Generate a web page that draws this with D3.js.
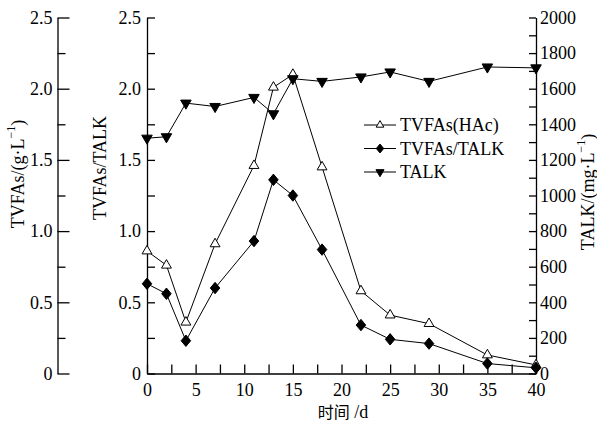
<!DOCTYPE html>
<html>
<head>
<meta charset="utf-8">
<script src="https://cdn.jsdelivr.net/npm/d3@7"></script>
<style>
  body { margin: 0; background: #fff; }
  text { font-family: "Liberation Serif", "Times New Roman", serif; font-size: 18px; fill: #000; }
  .cjk { font-family: "Noto Sans CJK SC", sans-serif; }
  .axis path, .axis line { stroke: #000; stroke-width: 1.3; }
</style>
</head>
<body>
<script>
// days of operation
const days = [0, 2, 4, 7, 11, 13, 15, 18, 22, 25, 29, 35, 40];
// TVFAs (HAc), g/L
const tvfas = [0.86, 0.76, 0.36, 0.91, 1.46, 2.01, 2.10, 1.45, 0.58, 0.41, 0.35, 0.13, 0.06];
// TVFAs/TALK ratio
const ratio = [0.63, 0.56, 0.23, 0.60, 0.93, 1.36, 1.25, 0.87, 0.34, 0.24, 0.21, 0.07, 0.04];
// TALK, mg/L
const talk = [1322, 1330, 1519, 1500, 1551, 1459, 1656, 1641, 1666, 1694, 1641, 1722, 1717];

const xTicks = [0, 5, 10, 15, 20, 25, 30, 35, 40];
const leftTicks = [0, 0.5, 1.0, 1.5, 2.0, 2.5];
const rightTicks = [0, 200, 400, 600, 800, 1000, 1200, 1400, 1600, 1800, 2000];
const seriesNames = ['TVFAs(HAc)', 'TVFAs/TALK', 'TALK'];

const W = 597, H = 422;
const plot = { left: 147, right: 536, top: 17.5, bottom: 373.5 };
const farAxisX = 57.5;

const svg = d3.select('body').append('svg')
    .attr('width', W)
    .attr('height', H);

const xscale = d3.scaleLinear().domain([0, 40]).range([plot.left, plot.right]);
const yscale = d3.scaleLinear().domain([0, 2.5]).range([plot.bottom, plot.top]);
const y2scale = d3.scaleLinear().domain([0, 2000]).range([plot.bottom, plot.top]);

//custom marker shapes
const rhomb = {
    draw(ctx, size) {
        const w = Math.sqrt(size) * 0.55, h = w * 1.2;
        ctx.moveTo(0, -h); ctx.lineTo(w, 0); ctx.lineTo(0, h); ctx.lineTo(-w, 0); ctx.closePath();
    }
};
const triDown = {
    draw(ctx, size) {
        const s = Math.sqrt(size / (Math.sqrt(3) / 4));
        const hh = s * Math.sqrt(3) / 2;
        ctx.moveTo(-s / 2, -hh / 3); ctx.lineTo(s / 2, -hh / 3); ctx.lineTo(0, 2 * hh / 3); ctx.closePath();
    }
};
const triUp = {
    draw(ctx, size) {
        const s = Math.sqrt(size / (Math.sqrt(3) / 4));
        const hh = s * Math.sqrt(3) / 2;
        ctx.moveTo(-s / 2, hh / 3); ctx.lineTo(s / 2, hh / 3); ctx.lineTo(0, -2 * hh / 3); ctx.closePath();
    }
};

/////////////////////////
// axes

function minorOf(scale, step) {
    const [a, b] = scale.domain();
    return d3.range(a + step / 2, b, step);
}

function drawAxis(axis, transform) {
    const g = svg.append('g').attr('class', 'axis').attr('transform', transform).call(axis);
    g.selectAll('text').attr('fill', '#000');
    return g;
}

const leftFmt = (d) => d === 0 ? '0' : d3.format('.1f')(d);

//far left axis (TVFAs g/L)
drawAxis(d3.axisLeft(yscale).tickValues(leftTicks).tickFormat(leftFmt)
    .tickSizeInner(-12).tickSizeOuter(0).tickPadding(5), `translate(${farAxisX},0)`);
drawAxis(d3.axisLeft(yscale).tickValues(minorOf(yscale, 0.5)).tickFormat('')
    .tickSizeInner(-8).tickSizeOuter(0), `translate(${farAxisX},0)`)
    .select('.domain').remove();

//inner left axis (TVFAs/TALK)
drawAxis(d3.axisLeft(yscale).tickValues(leftTicks).tickFormat(leftFmt)
    .tickSizeInner(-8).tickSizeOuter(0).tickPadding(6), `translate(${plot.left},0)`);
drawAxis(d3.axisLeft(yscale).tickValues(minorOf(yscale, 0.5)).tickFormat('')
    .tickSizeInner(-8).tickSizeOuter(0), `translate(${plot.left},0)`)
    .select('.domain').remove();

//right axis (TALK)
drawAxis(d3.axisRight(y2scale).tickValues(rightTicks).tickFormat(d3.format('d'))
    .tickSizeInner(-7).tickSizeOuter(0).tickPadding(4), `translate(${plot.right},0)`);
drawAxis(d3.axisRight(y2scale).tickValues(minorOf(y2scale, 200)).tickFormat('')
    .tickSizeInner(-7).tickSizeOuter(0), `translate(${plot.right},0)`)
    .select('.domain').remove();

//x axis
drawAxis(d3.axisBottom(xscale).tickValues(xTicks)
    .tickSizeInner(-9).tickSizeOuter(0).tickPadding(9.5), `translate(0,${plot.bottom})`);
drawAxis(d3.axisBottom(xscale).tickValues(minorOf(xscale, 5)).tickFormat('')
    .tickSizeInner(-9).tickSizeOuter(0), `translate(0,${plot.bottom})`)
    .select('.domain').remove();

//axis titles
function rotatedTitle(x, y, main, tail) {
    const t = svg.append('text')
        .attr('transform', `translate(${x},${y}) rotate(-90)`)
        .attr('text-anchor', 'middle')
        .attr('dominant-baseline', 'central');
    t.append('tspan').text(main);
    if (tail) {
        t.append('tspan').attr('font-size', '12px').attr('dy', -7).text('\u22121');
        t.append('tspan').attr('dy', 7).text(')');
    }
}
rotatedTitle(18, 174, 'TVFAs/(g\u00b7L', true);
rotatedTitle(100, 168, 'TVFAs/TALK', false);
rotatedTitle(588, 192, 'TALK/(mg\u00b7L', true);

const xtitle = svg.append('text')
    .attr('x', 343).attr('y', 418.3)
    .attr('text-anchor', 'middle');
xtitle.append('tspan').attr('class', 'cjk').attr('font-size', '16px').text('时间');
xtitle.append('tspan').text(' /d');

/////////////////////////
// series

const series = [
    { name: seriesNames[0], values: tvfas, scale: yscale, type: triUp, size: 42, fill: '#fff' },
    { name: seriesNames[1], values: ratio, scale: yscale, type: rhomb, size: 75, fill: '#000' },
    { name: seriesNames[2], values: talk, scale: y2scale, type: triDown, size: 48, fill: '#000' }
];

const chart = svg.append('g').attr('class', 'chart');

series.forEach((s) => {
    const pts = days.map((d, i) => [xscale(d), s.scale(s.values[i])]);
    chart.append('path')
        .attr('d', d3.line()(pts))
        .attr('fill', 'none')
        .attr('stroke', '#000')
        .attr('stroke-width', 1);
    chart.selectAll(null).data(pts).enter().append('path')
        .attr('transform', (p) => `translate(${p[0]},${p[1]})`)
        .attr('d', d3.symbol().type(s.type).size(s.size))
        .attr('fill', s.fill)
        .attr('stroke', '#000')
        .attr('stroke-width', 1);
});

//legend
const legend = svg.append('g').attr('transform', 'translate(364,125)');
series.forEach((s, i) => {
    const row = legend.append('g').attr('transform', `translate(0,${i * 23.5})`);
    row.append('line').attr('x1', 0).attr('x2', 32).attr('y1', 0).attr('y2', 0)
        .attr('stroke', '#000').attr('stroke-width', 1);
    row.append('path')
        .attr('transform', 'translate(16,0)')
        .attr('d', d3.symbol().type(s.type).size(s.size * 0.6))
        .attr('fill', s.fill)
        .attr('stroke', '#000');
    row.append('text').attr('x', 36).attr('y', 0).attr('dy', '0.35em').text(s.name);
});
</script>
</body>
</html>
